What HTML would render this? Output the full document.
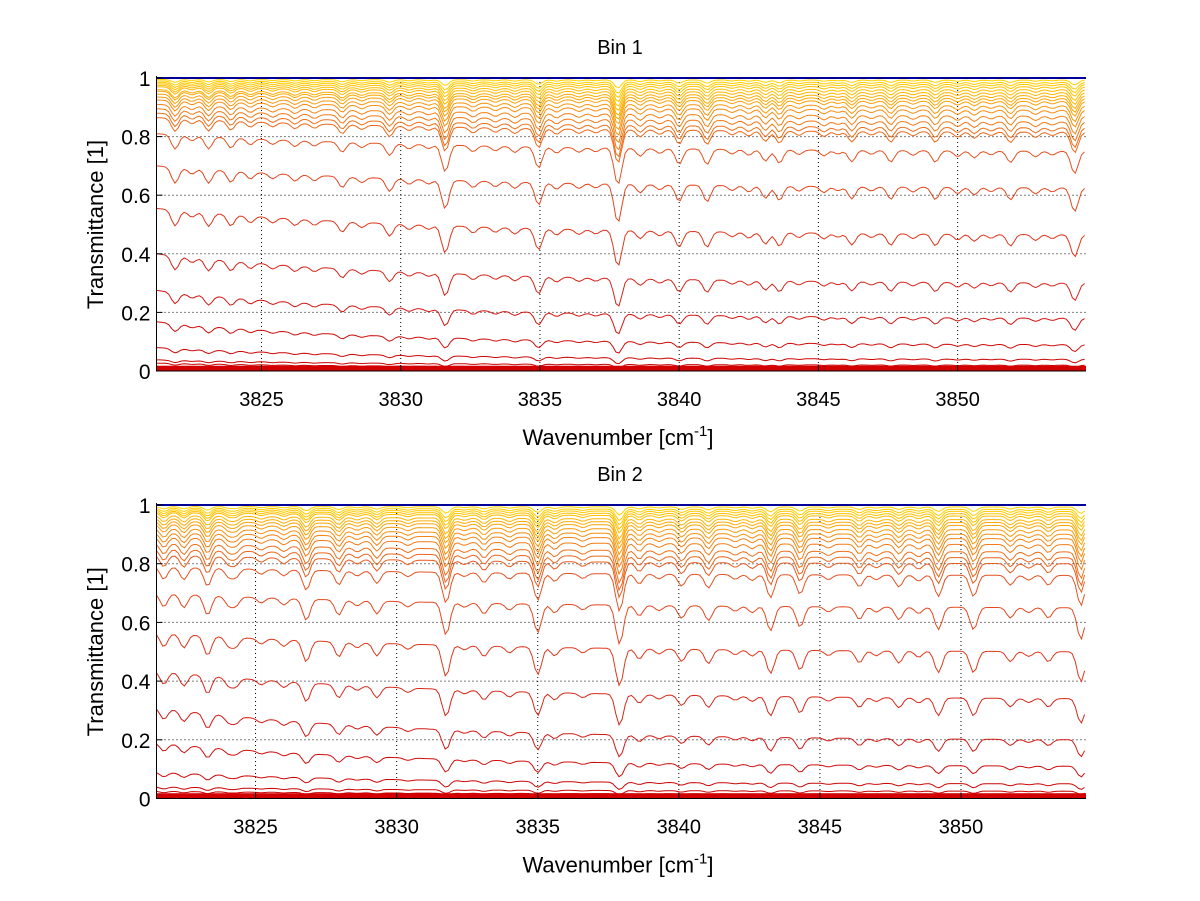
<!DOCTYPE html>
<html><head><meta charset="utf-8"><style>
html,body{margin:0;padding:0;background:#fff;}
svg{display:block;font-family:"Liberation Sans",sans-serif;}
</style></head><body>
<svg id="fig" width="1200" height="901" viewBox="0 0 1200 901"></svg>
<script>
// ---- data ----
const xTicks = [3825, 3830, 3835, 3840, 3845, 3850];
const yTicks = [0, 0.2, 0.4, 0.6, 0.8, 1];
const yTickLabels = ["0", "0.2", "0.4", "0.6", "0.8", "1"];
const bin1LineCenters = [3821.9,3822.5,3823.1,3823.9,3824.6,3825.4,3826.2,3826.9,3827.9,3828.6,3829.6,3830.3,3831.0,3831.6,3832.6,3833.4,3834.1,3834.95,3835.6,3836.4,3837.0,3837.8,3838.6,3839.3,3840.0,3841.0,3841.9,3842.5,3843.1,3843.6,3844.3,3845.2,3845.7,3846.2,3846.9,3847.6,3848.4,3849.2,3850.0,3850.6,3851.2,3851.9,3852.8,3853.4,3854.2];
const bin1LineStrengths = [0.35,0.12,0.3,0.25,0.15,0.12,0.15,0.12,0.25,0.12,0.3,0.12,0.1,0.7,0.15,0.12,0.15,0.55,0.15,0.12,0.1,1.0,0.2,0.12,0.4,0.4,0.12,0.15,0.3,0.35,0.12,0.15,0.1,0.3,0.1,0.3,0.12,0.3,0.15,0.18,0.1,0.3,0.15,0.1,0.6];
const bin1LevelsLeft  = [0.995,0.99,0.985,0.98,0.975,0.97,0.96,0.955,0.945,0.935,0.925,0.91,0.895,0.88,0.865,0.81,0.70,0.555,0.40,0.275,0.168,0.08,0.038,0.027,0.015,0.01,0.005];
const bin1LevelsRight = [0.993,0.985,0.978,0.97,0.96,0.95,0.94,0.93,0.92,0.905,0.89,0.87,0.85,0.83,0.815,0.75,0.625,0.465,0.30,0.18,0.09,0.04,0.02,0.012,0.006,0.004,0.002];
const bin2LineCenters = [3821.75,3822.46,3823.3,3824.05,3824.3,3825.2,3826.0,3826.8,3827.95,3828.6,3829.3,3830.4,3831.75,3832.4,3833.1,3834.0,3835.0,3835.6,3836.6,3837.9,3838.6,3839.3,3840.1,3841.05,3842.0,3842.6,3843.25,3844.3,3845.3,3846.4,3847.0,3847.8,3848.5,3849.2,3850.45,3851.75,3852.4,3853.1,3854.25];
const bin2LineStrengths = [0.3,0.3,0.45,0.2,0.2,0.12,0.15,0.5,0.35,0.12,0.3,0.12,0.8,0.1,0.25,0.15,0.7,0.2,0.12,1.0,0.25,0.12,0.3,0.35,0.12,0.15,0.6,0.5,0.12,0.3,0.12,0.3,0.15,0.55,0.55,0.25,0.12,0.25,0.8];
const bin2LevelsLeft  = [0.995,0.99,0.985,0.98,0.975,0.965,0.955,0.945,0.935,0.92,0.905,0.89,0.87,0.85,0.83,0.79,0.70,0.565,0.435,0.31,0.19,0.09,0.04,0.025,0.015,0.01,0.005];
const bin2LevelsRight = [0.993,0.985,0.978,0.97,0.962,0.95,0.94,0.93,0.915,0.9,0.885,0.865,0.84,0.82,0.80,0.76,0.65,0.50,0.34,0.20,0.11,0.05,0.025,0.015,0.008,0.005,0.002];

const NS = "http://www.w3.org/2000/svg";
const svg = document.getElementById("fig");
function mk(tag, attrs, parent){ const e=document.createElementNS(NS,tag); for(const k in attrs) e.setAttribute(k,attrs[k]); (parent||svg).appendChild(e); return e; }
const colorStops = [[0,[200,0,0]],[0.3,[210,30,25]],[0.55,[222,60,30]],[0.8,[228,85,35]],[0.9,[245,135,20]],[0.97,[255,190,0]],[1,[255,215,0]]];
function levelColor(v){
  for(let i=1;i<colorStops.length;i++){
    if(v<=colorStops[i][0]){
      const a=colorStops[i-1],b=colorStops[i],t=(v-a[0])/(b[0]-a[0]);
      return `rgb(${a[1].map((c,j)=>Math.round(c+(b[1][j]-c)*t)).join(",")})`;
    }
  }
  return "rgb(255,215,0)";
}

function drawPanel(p){
  const g = mk("g", {});
  
  
  const xs = v => p.x0 + (v - p.xmin) / (p.xmax - p.xmin) * (p.x1 - p.x0);
  const ys = v => p.y0 - v * (p.y0 - p.y1);
  xTicks.forEach(t => {
    const l = mk("line",{x1:xs(t),x2:xs(t),y1:p.y1,y2:p.y0,stroke:"#000","stroke-width":1,"stroke-dasharray":"1,3"},g);
     
  });
  yTicks.forEach(t => {
    const l = mk("line",{x1:p.x0,x2:p.x1,y1:ys(t),y2:ys(t),stroke:"#000","stroke-width":1,"stroke-dasharray":"1,3"},g);
     
  });
  const n = p.left.length;
  const sigma = 0.13;
  const curves = mk("g",{},g);
   
  for (let i=n-1;i>=0;i--){
    const tL=-Math.log(p.left[i]), tR=-Math.log(p.right[i]);
    const tauMid=(tL+tR)/2;
    const k=0.36*Math.sqrt(tauMid);
    let pts=[];
    for (let w=p.xmin; w<=p.xmax+1e-9; w+=0.11){
      const u=(w-p.xmin)/(p.xmax-p.xmin);
      const f=(1-Math.exp(-3*u))/(1-Math.exp(-3));
      const tau=tL+(tR-tL)*f;
      let L=0;
      for (let j=0;j<p.centers.length;j++){ const d=(w-p.centers[j])/sigma; L+=p.strengths[j]*Math.exp(-0.5*d*d); }
      const T=Math.exp(-tau)*Math.exp(-k*L);
      pts.push(xs(w).toFixed(1)+","+ys(T).toFixed(1));
    }
    const lvl=(p.left[i]+p.right[i])/2;
    const pl=mk("polyline",{points:pts.join(" "),fill:"none",stroke:levelColor(lvl),"stroke-width":1},curves);
     
  }
  const band=mk("rect",{x:p.x0,y:ys(0.018),width:p.x1-p.x0,height:ys(0)-ys(0.018),fill:"rgb(210,0,0)"},g);
   
  const ul=mk("line",{x1:p.x0,x2:p.x1,y1:ys(1),y2:ys(1),stroke:"rgb(0,0,150)","stroke-width":2},g);
   
  const ax=mk("path",{d:`M${p.x0},${p.y1-2} V${p.y0} H${p.x1}`,fill:"none",stroke:"#000","stroke-width":1},g);
   
  xTicks.forEach(t=>{
    const tk=mk("line",{x1:xs(t),x2:xs(t),y1:p.y0,y2:p.y0-6,stroke:"#000"},g);
     
    const tx=mk("text",{x:xs(t),y:p.y0+35,"font-size":20,"text-anchor":"middle",fill:"#000"},g);
    tx.textContent=String(t);
     
  });
  yTicks.forEach((t,i)=>{
    const tk=mk("line",{x1:p.x0,x2:p.x0+6,y1:ys(t),y2:ys(t),stroke:"#000"},g);
     
    const tx=mk("text",{x:p.x0-6,y:ys(t)+8,"font-size":21,"text-anchor":"end",fill:"#000"},g);
    tx.textContent=yTickLabels[i];
     
  });
  const title=mk("text",{x:620,y:p.y1-24,"font-size":20,"text-anchor":"middle",fill:"#000"},g);
  title.textContent=p.title;
   
  const xl=mk("text",{x:618,y:p.y0+74,"font-size":22,"text-anchor":"middle",fill:"#000"},g);
  xl.innerHTML='Wavenumber [cm<tspan dy="-9" font-size="15">-1</tspan><tspan dy="9">]</tspan>';
   
  const cy=(p.y0+p.y1)/2;
  const yl=mk("text",{x:103,y:cy,"font-size":22,"text-anchor":"middle",fill:"#000",transform:`rotate(-90 103 ${cy})`},g);
  yl.textContent='Transmittance [1]';
   
}

drawPanel({name:"bin-1-panel",title:"Bin 1",x0:156.5,x1:1086,y0:371,y1:78,xmin:3821.23,xmax:3854.61,
  centers:bin1LineCenters,strengths:bin1LineStrengths,left:bin1LevelsLeft,right:bin1LevelsRight});
drawPanel({name:"bin-2-panel",title:"Bin 2",x0:156.5,x1:1086,y0:798.5,y1:505,xmin:3821.49,xmax:3854.43,
  centers:bin2LineCenters,strengths:bin2LineStrengths,left:bin2LevelsLeft,right:bin2LevelsRight});
</script>
</body></html>
